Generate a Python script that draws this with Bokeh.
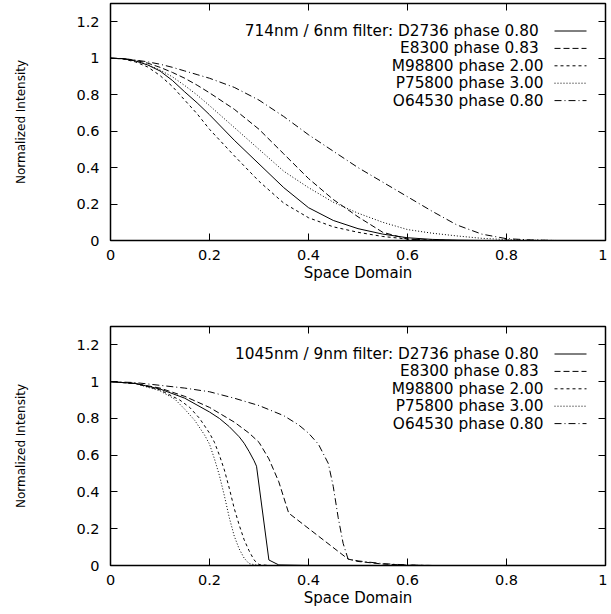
from bokeh.plotting import figure
from bokeh.layouts import column
from bokeh.models import FixedTicker, LinearAxis, Range1d
from bokeh.core.properties import value
from bokeh.embed import file_html
from bokeh.resources import INLINE

# ---------------- data ----------------
X_TICKS = [0, 0.2, 0.4, 0.6, 0.8, 1]
X_TICK_LABELS = ["0", "0.2", "0.4", "0.6", "0.8", "1"]
Y_TICKS = [0, 0.2, 0.4, 0.6, 0.8, 1, 1.2]
Y_TICK_LABELS = ["0", "0.2", "0.4", "0.6", "0.8", "1", "1.2"]

TOP_LABELS = ["714nm / 6nm filter: D2736  phase 0.80", "E8300  phase 0.83",
              "M98800 phase 2.00", "P75800 phase 3.00", "O64530 phase 0.80"]
BOT_LABELS = ["1045nm / 9nm filter: D2736  phase 0.80", "E8300  phase 0.83",
              "M98800 phase 2.00", "P75800 phase 3.00", "O64530 phase 0.80"]

# 714nm panel
top_x = [0, 0.025, 0.05, 0.075, 0.1, 0.125, 0.15, 0.175, 0.2, 0.25, 0.3, 0.35, 0.4, 0.45, 0.5,
         0.55, 0.6, 0.65, 0.7, 0.75, 0.8, 0.85, 0.9, 0.95, 1.0]
top_d2736 = [1, 0.997, 0.985, 0.963, 0.93, 0.878, 0.815, 0.755, 0.69, 0.55, 0.42, 0.29, 0.18, 0.11,
             0.065, 0.035, 0.015, 0.006, 0.002, 0, 0, 0, 0, 0, 0]
top_e8300 = [1, 0.998, 0.988, 0.973, 0.95, 0.922, 0.89, 0.852, 0.81, 0.72, 0.61, 0.475, 0.34, 0.225,
             0.13, 0.045, 0.008, 0, 0, 0, 0, 0, 0, 0, 0]
top_m98800 = [1, 0.996, 0.98, 0.952, 0.905, 0.845, 0.77, 0.695, 0.61, 0.465, 0.325, 0.205, 0.125, 0.075,
              0.045, 0.022, 0.008, 0.002, 0, 0, 0, 0, 0, 0, 0]
top_p75800 = [1, 0.997, 0.985, 0.965, 0.935, 0.898, 0.85, 0.798, 0.74, 0.62, 0.50, 0.38, 0.29, 0.21,
              0.15, 0.10, 0.06, 0.04, 0.025, 0.012, 0.005, 0.002, 0, 0, 0]
top_o64530 = [1, 0.998, 0.99, 0.98, 0.967, 0.95, 0.93, 0.91, 0.89, 0.84, 0.77, 0.68, 0.58, 0.49,
              0.40, 0.32, 0.24, 0.16, 0.085, 0.035, 0.01, 0.003, 0, 0, 0]

# 1045nm panel
bot_d2736_x = [0, 0.05, 0.1, 0.15, 0.2, 0.22, 0.24, 0.26, 0.27, 0.28, 0.29, 0.295, 0.32, 0.34, 0.4, 0.5, 0.6, 0.7, 0.8, 0.9, 1.0]
bot_d2736_y = [1, 0.99, 0.96, 0.91, 0.835, 0.80, 0.755, 0.70, 0.665, 0.62, 0.57, 0.54, 0.03, 0.003, 0, 0, 0, 0, 0, 0, 0]
bot_e8300_x = [0, 0.05, 0.1, 0.15, 0.2, 0.25, 0.28, 0.3, 0.32, 0.34, 0.36, 0.48, 0.5, 0.55, 0.6, 0.65, 0.7, 0.8, 0.9, 1.0]
bot_e8300_y = [1, 0.99, 0.965, 0.92, 0.86, 0.78, 0.72, 0.67, 0.58, 0.455, 0.285, 0.035, 0.022, 0.008, 0.002, 0, 0, 0, 0, 0]
bot_m98800_x = [0, 0.05, 0.1, 0.14, 0.16, 0.18, 0.2, 0.21, 0.22, 0.23, 0.24, 0.25, 0.26, 0.27, 0.28, 0.29, 0.3, 0.32, 0.4, 0.6, 0.8, 1.0]
bot_m98800_y = [1, 0.99, 0.955, 0.9, 0.86, 0.80, 0.72, 0.67, 0.60, 0.52, 0.42, 0.31, 0.22, 0.14, 0.08, 0.03, 0.005, 0, 0, 0, 0, 0]
bot_p75800_x = [0, 0.05, 0.1, 0.13, 0.15, 0.17, 0.19, 0.2, 0.21, 0.22, 0.23, 0.24, 0.25, 0.26, 0.27, 0.28, 0.3, 0.4, 0.6, 0.8, 1.0]
bot_p75800_y = [1, 0.99, 0.95, 0.905, 0.85, 0.79, 0.71, 0.66, 0.58, 0.49, 0.38, 0.26, 0.16, 0.09, 0.04, 0.01, 0, 0, 0, 0, 0]
bot_o64530_x = [0, 0.05, 0.1, 0.15, 0.2, 0.25, 0.3, 0.35, 0.38, 0.4, 0.42, 0.44, 0.45, 0.46, 0.47, 0.48, 0.5, 0.55, 0.6, 0.65, 0.7, 0.8, 0.9, 1.0]
bot_o64530_y = [1, 0.995, 0.98, 0.965, 0.945, 0.91, 0.87, 0.815, 0.765, 0.72, 0.66, 0.555, 0.43, 0.26, 0.12, 0.035, 0.025, 0.01, 0.003, 0, 0, 0, 0, 0]

DASHES = ["solid", "6 3", "3 3", "1 2", "7 3 1 3"]

FONT = "DejaVu Sans"
FRAME_W = 495
Y_MAX = 1.3


def make_panel(labels, series, frame_h, b_top, b_bottom):
    p = figure(frame_width=FRAME_W, frame_height=frame_h,
               x_range=Range1d(0, 1), y_range=Range1d(0, Y_MAX),
               output_backend="svg", toolbar_location=None,
               min_border_left=110, min_border_right=2,
               min_border_top=b_top, min_border_bottom=b_bottom)
    p.grid.visible = False
    p.outline_line_color = "black"
    p.outline_line_width = 1.5
    p.background_fill_color = "white"
    p.border_fill_color = "white"

    xax = p.xaxis[0]
    yax = p.yaxis[0]
    xax.ticker = FixedTicker(ticks=X_TICKS)
    xax.major_label_overrides = dict(zip(X_TICKS, X_TICK_LABELS))
    yax.ticker = FixedTicker(ticks=Y_TICKS)
    yax.major_label_overrides = dict(zip(Y_TICKS, Y_TICK_LABELS))
    for ax in (xax, yax):
        ax.major_tick_in = 7
        ax.major_tick_out = 0
        ax.minor_tick_line_color = None
        ax.axis_line_color = None
        ax.major_tick_line_color = "black"
        ax.major_label_text_font = FONT
        ax.major_label_text_font_size = "14.5px"
        ax.major_label_text_color = "black"
        ax.axis_label_text_font_style = "normal"
        ax.axis_label_text_color = "black"
    xax.axis_label = "Space Domain"
    xax.axis_label_text_font = FONT
    xax.axis_label_text_font_size = "15px"
    xax.major_label_standoff = 9
    xax.axis_label_standoff = 1
    yax.axis_label = "Normalized Intensity"
    yax.axis_label_text_font = FONT
    yax.axis_label_text_font_size = "12px"
    yax.major_label_standoff = 11
    yax.axis_label_standoff = 45

    # mirrored ticks on top and right
    for side, ticks in (("above", X_TICKS), ("right", Y_TICKS)):
        ax = LinearAxis(ticker=FixedTicker(ticks=ticks),
                        major_label_overrides={t: "" for t in ticks},
                        major_tick_in=7, major_tick_out=0,
                        minor_tick_line_color=None, axis_line_color=None,
                        major_label_standoff=0,
                        major_label_text_font_size="0px")
        p.add_layout(ax, side)

    for (xs, ys), dash in zip(series, DASHES):
        p.line(xs, ys, line_color="black", line_width=1, line_dash=dash)

    # gnuplot-style key: text right-aligned, sample line to its right
    ppu = frame_h / Y_MAX
    rows_y = [Y_MAX - (27.5 + 17.4 * i) / ppu for i in range(len(labels))]
    p.text(x=[433 / FRAME_W] * len(labels), y=rows_y, text=labels,
           text_align="right", text_baseline="middle",
           text_font=value(FONT), text_font_size="15.3px", text_color="black")
    for yr, dash in zip(rows_y, DASHES):
        p.line([444 / FRAME_W, 476 / FRAME_W], [yr, yr], line_color="black",
               line_width=1, line_dash=dash)
    return p


top_series = [(top_x, top_d2736), (top_x, top_e8300), (top_x, top_m98800),
              (top_x, top_p75800), (top_x, top_o64530)]
bot_series = [(bot_d2736_x, bot_d2736_y), (bot_e8300_x, bot_e8300_y),
              (bot_m98800_x, bot_m98800_y), (bot_p75800_x, bot_p75800_y),
              (bot_o64530_x, bot_o64530_y)]

p1 = make_panel(TOP_LABELS, top_series, 237, 3, 60)
p2 = make_panel(BOT_LABELS, bot_series, 239, 26, 44)

layout = column(p1, p2, spacing=0)

open("out.html", "w").write(file_html(layout, INLINE))
